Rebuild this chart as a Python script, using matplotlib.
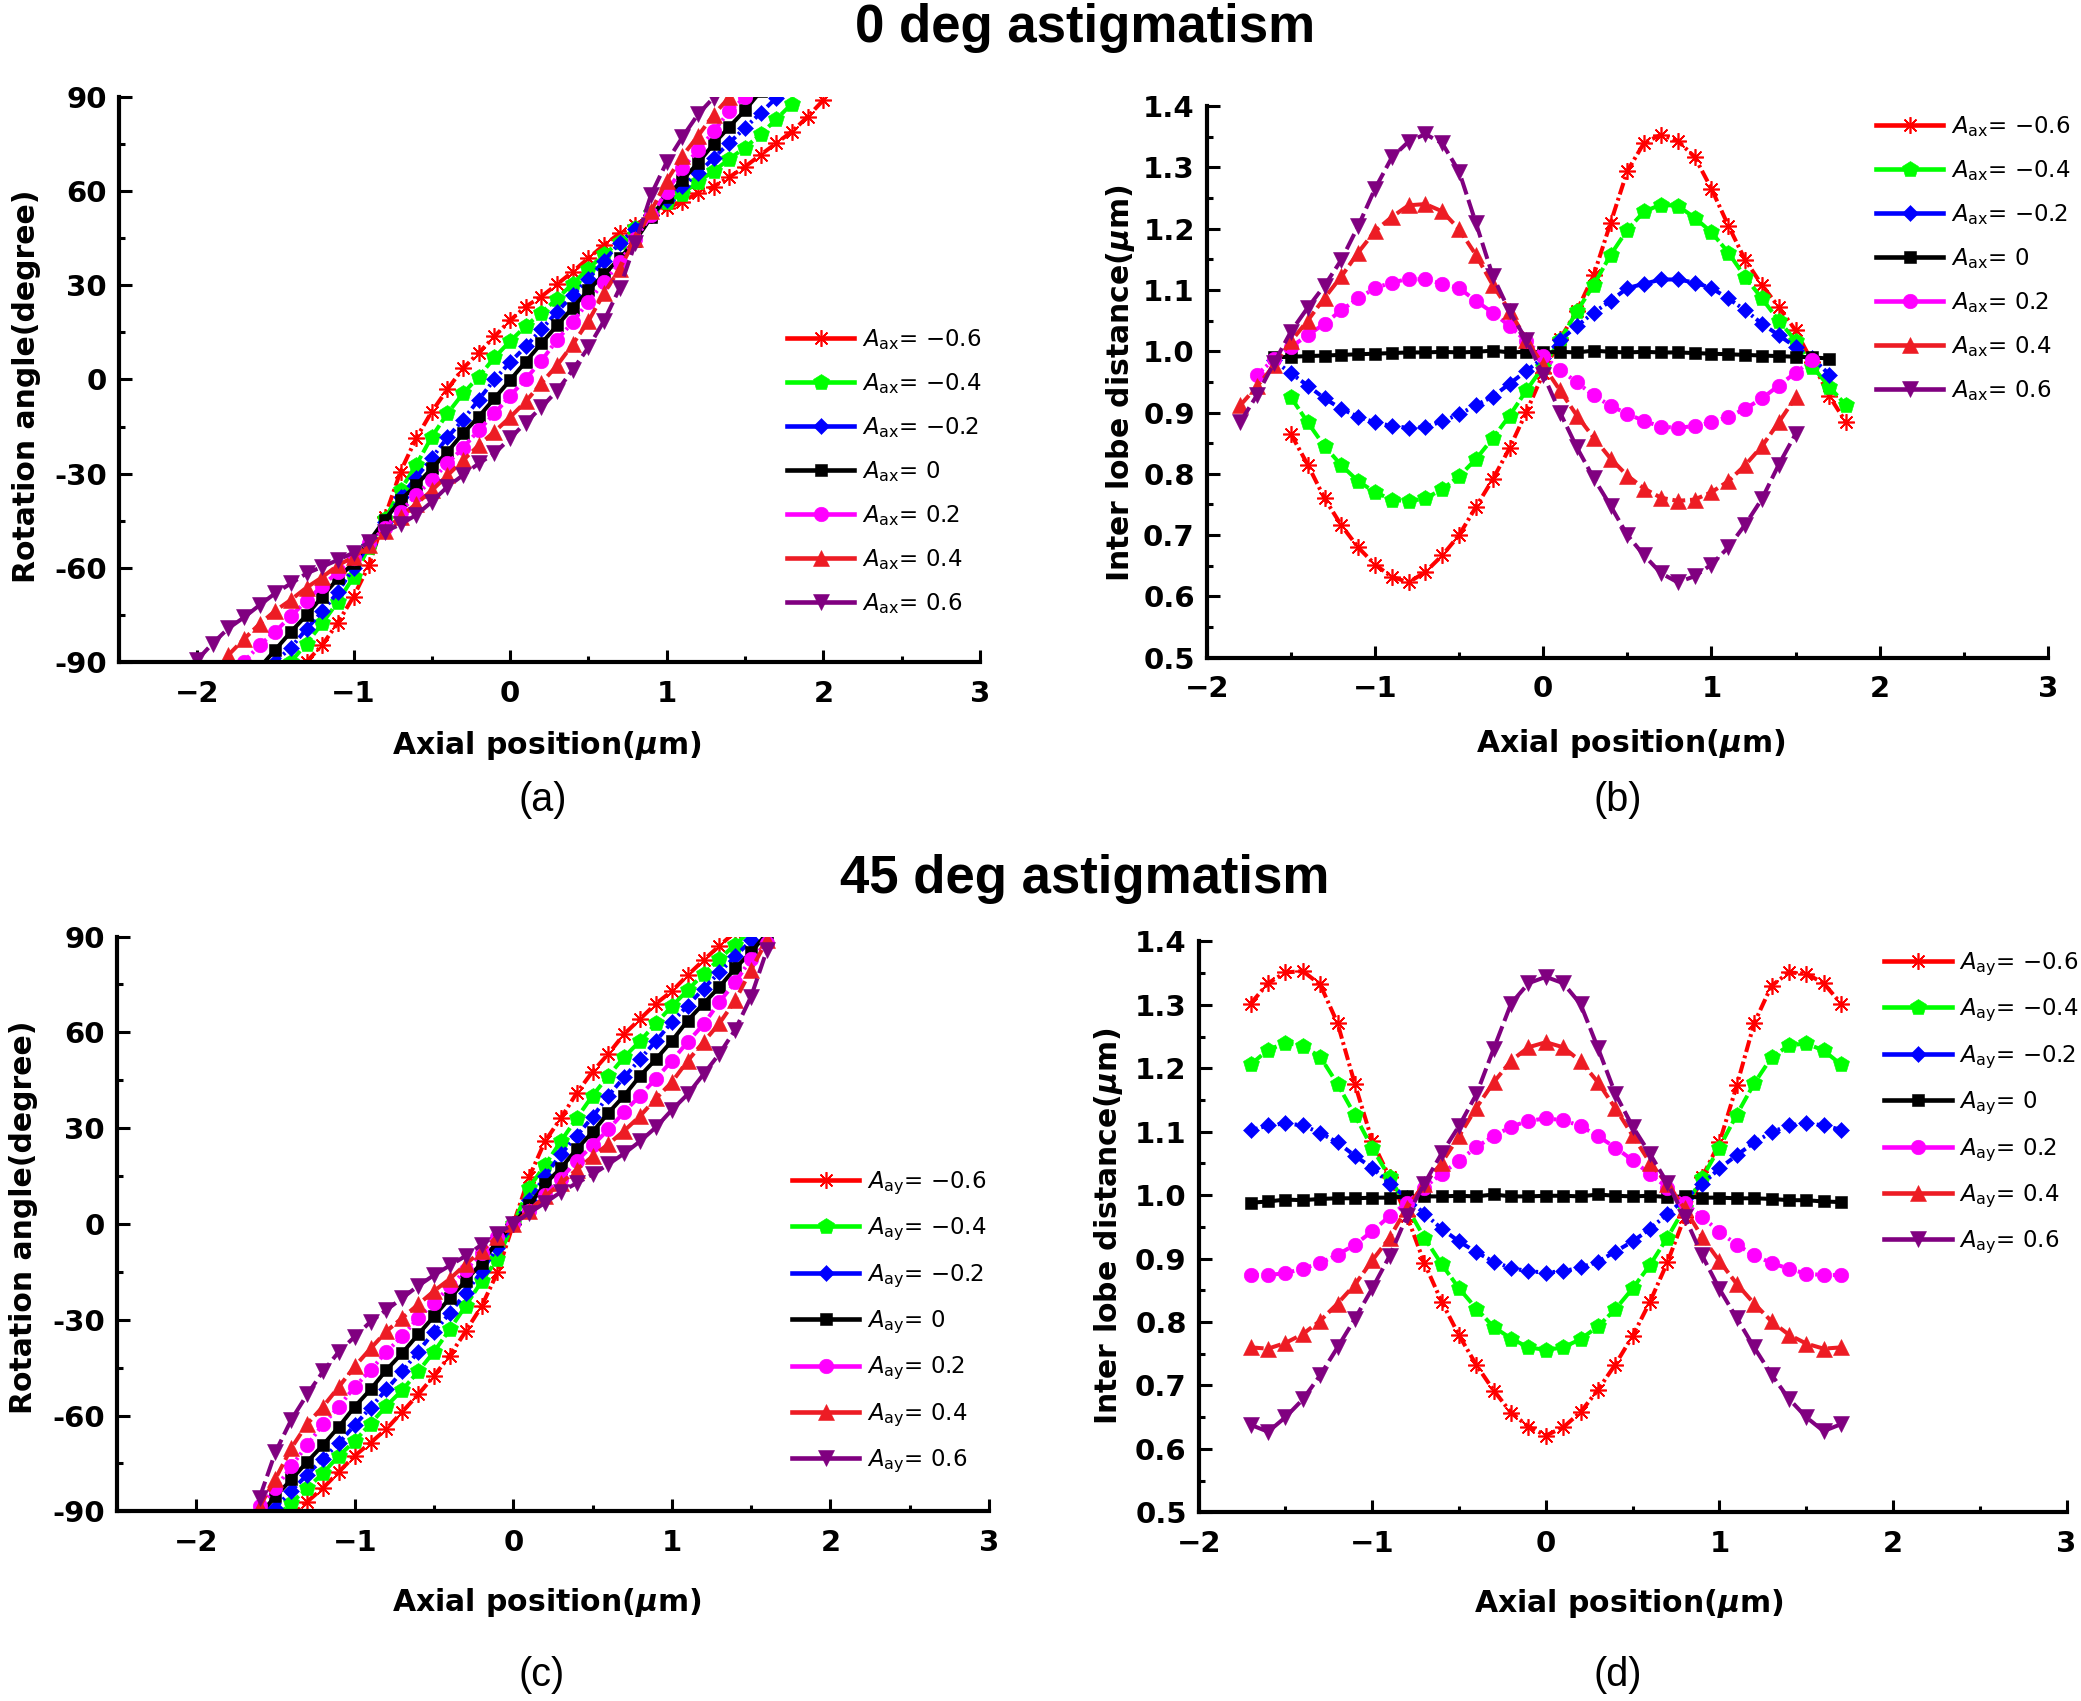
import numpy as np
import matplotlib
matplotlib.use("Agg")
import matplotlib.pyplot as plt
from matplotlib.lines import Line2D
from matplotlib.ticker import MultipleLocator, FormatStrFormatter

SAVE_PATH = "out.png"

plt.rcParams["font.family"] = ["DejaVu Sans"]
plt.rcParams["mathtext.fontset"] = "custom"
plt.rcParams["mathtext.rm"] = "DejaVu Sans"
plt.rcParams["mathtext.it"] = "DejaVu Sans:italic"
plt.rcParams["mathtext.bf"] = "DejaVu Sans:bold"
plt.rcParams["mathtext.bfit"] = "DejaVu Sans:italic:bold"

# astigmatism amplitudes (legend text)
A_TEXT = ["\u22120.6", "\u22120.4", "\u22120.2", "0", "0.2", "0.4", "0.6"]

# ---------------- (a) rotation angle, 0 deg astigmatism ----------------
ROT0_START = [-1.3, -1.4, -1.5, -1.6, -1.7, -1.8, -2.0]
ROT0_M06 = [-89.8, -84.5, -77.4, -69.1, -59.0, -43.7, -29.3, -18.7, -10.2, -3.1, 3.6, 8.5, 13.7,
            18.8, 23.2, 26.4, 30.3, 34.3, 38.6, 42.8, 46.5, 49.2, 52.4, 54.5, 56.6, 59.3, 61.4,
            64.4, 67.7, 71.5, 75.2, 78.9, 83.6, 88.9]
ROT0_M04 = [-89.8, -84.0, -77.6, -70.7, -62.8, -53.2, -44.5, -35.2, -27.2, -18.2, -10.8, -4.4, 0.9,
            7.0, 12.2, 17.0, 21.3, 25.7, 30.5, 35.3, 39.8, 43.8, 48.2, 52.9, 56.6, 59.1, 62.9,
            66.3, 70.2, 73.8, 78.0, 82.8, 87.8]
ROT0_M02 = [-89.8, -85.3, -79.4, -73.8, -67.6, -60.0, -52.4, -45.2, -37.3, -31.2, -25.0, -18.4,
            -12.8, -6.4, 0.0, 5.5, 10.5, 16.0, 21.5, 26.8, 32.0, 37.8, 43.5, 48.0, 52.3, 57.0,
            61.5, 65.6, 70.5, 75.3, 80.1, 84.8, 89.6]
ROT0_Z = [-91.7, -86.0, -80.3, -75.0, -69.1, -63.3, -58.3, -51.5, -44.6, -38.4, -33.6, -28.3,
          -23.0, -17.1, -11.8, -6.0, -0.2, 5.7, 11.5, 17.2, 22.9, 28.4, 33.5, 38.5, 44.2, 51.6,
          58.2, 63.5, 68.9, 75.0, 80.4, 85.7, 91.7]
ROT0_P02 = [-89.8, -84.6, -80.2, -75.3, -70.4, -65.6, -61.2, -56.9, -52.1, -47.2, -42.0, -36.8,
            -32.0, -26.7, -21.7, -16.1, -10.8, -5.2, 0.2, 6.0, 12.6, 18.3, 24.8, 31.0, 37.3,
            44.8, 52.2, 59.8, 67.2, 73.0, 79.0, 85.4, 89.8]
ROT0_P04 = [-87.7, -82.6, -77.8, -73.6, -70.1, -66.2, -62.9, -59.1, -56.5, -52.8, -48.1, -43.6,
            -39.6, -35.3, -30.5, -25.7, -20.9, -16.6, -12.0, -7.0, -1.1, 4.5, 11.2, 18.6, 27.5,
            35.3, 44.6, 53.6, 63.2, 71.1, 77.5, 84.3, 89.8]
ROT0_P06 = [-89.3, -84.0, -79.2, -75.7, -71.8, -68.0, -64.9, -61.7, -59.6, -57.4, -55.1, -51.6,
            -48.4, -46.1, -43.1, -38.9, -34.1, -30.4, -26.7, -23.5, -18.7, -13.7, -8.8, -3.6,
            3.1, 10.2, 18.7, 29.1, 43.5, 58.8, 69.2, 77.1, 84.4, 89.7]

# ---------------- (b) inter lobe distance, 0 deg astigmatism ----------------
DIST0_START = [-1.5, -1.5, -1.6, -1.6, -1.7, -1.8, -1.8]
DIST0_M06 = [0.865, 0.815, 0.760, 0.716, 0.680, 0.652, 0.632, 0.623, 0.640, 0.667, 0.700, 0.746,
             0.791, 0.842, 0.901, 0.964, 1.020, 1.066, 1.124, 1.209, 1.294, 1.340, 1.353, 1.343,
             1.317, 1.265, 1.205, 1.149, 1.108, 1.072, 1.034, 0.982, 0.927, 0.884]
DIST0_M04 = [0.925, 0.884, 0.845, 0.814, 0.788, 0.770, 0.758, 0.755, 0.760, 0.775, 0.796, 0.824,
             0.858, 0.895, 0.936, 0.975, 1.018, 1.065, 1.108, 1.157, 1.198, 1.228, 1.239, 1.237,
             1.218, 1.194, 1.161, 1.121, 1.086, 1.050, 1.017, 0.975, 0.942, 0.912]
DIST0_M02 = [0.985, 0.964, 0.944, 0.923, 0.906, 0.893, 0.884, 0.878, 0.875, 0.876, 0.886, 0.897,
             0.912, 0.926, 0.947, 0.968, 0.989, 1.018, 1.041, 1.063, 1.082, 1.103, 1.110, 1.117,
             1.117, 1.112, 1.103, 1.086, 1.067, 1.045, 1.026, 1.007, 0.989, 0.962]
DIST0_Z = [0.990, 0.991, 0.992, 0.993, 0.994, 0.995, 0.996, 0.997, 0.998, 0.998, 0.999, 0.998,
           0.999, 1.001, 0.998, 0.999, 0.998, 0.999, 0.998, 1.001, 0.999, 0.998, 0.999, 0.998,
           0.998, 0.997, 0.996, 0.995, 0.994, 0.993, 0.992, 0.991, 0.990, 0.988]
DIST0_P02 = [0.962, 0.987, 1.007, 1.026, 1.045, 1.067, 1.086, 1.103, 1.112, 1.118, 1.117, 1.110,
             1.103, 1.082, 1.063, 1.041, 1.016, 0.992, 0.970, 0.949, 0.928, 0.911, 0.898, 0.886,
             0.877, 0.875, 0.878, 0.884, 0.893, 0.906, 0.923, 0.944, 0.965, 0.986]
DIST0_P04 = [0.912, 0.943, 0.977, 1.016, 1.050, 1.087, 1.122, 1.161, 1.196, 1.219, 1.238, 1.240,
             1.228, 1.199, 1.157, 1.108, 1.066, 1.019, 0.977, 0.936, 0.895, 0.859, 0.825, 0.797,
             0.776, 0.761, 0.756, 0.758, 0.770, 0.788, 0.814, 0.845, 0.884, 0.925]
DIST0_P06 = [0.885, 0.929, 0.981, 1.032, 1.071, 1.107, 1.149, 1.204, 1.265, 1.316, 1.342, 1.354,
             1.339, 1.293, 1.209, 1.123, 1.065, 1.018, 0.962, 0.900, 0.843, 0.793, 0.748, 0.700,
             0.667, 0.638, 0.623, 0.633, 0.652, 0.680, 0.717, 0.759, 0.815, 0.865]

# ---------------- (c) rotation angle, 45 deg astigmatism ----------------
ROT45_START = [-1.4, -1.5, -1.5, -1.6, -1.6, -1.6, -1.6]
ROT45_M06 = [-91.5, -87.0, -82.7, -77.6, -72.6, -68.5, -64.2, -58.8, -53.4, -47.6, -41.2, -33.6,
             -25.8, -15.2, 0.0, 14.7, 25.9, 33.1, 41.0, 47.7, 53.3, 59.5, 64.2, 69.0, 72.9, 77.9,
             82.6, 87.1, 91.5]
ROT45_M04 = [-92.0, -87.3, -82.8, -78.0, -72.6, -68.0, -62.5, -57.0, -52.0, -46.2, -40.0, -33.0,
             -25.6, -18.0, -11.0, 0.0, 11.4, 18.4, 25.9, 33.1, 40.2, 46.4, 52.3, 57.3, 62.8, 68.2,
             73.2, 78.3, 83.0, 87.5, 92.0]
ROT45_M02 = [-88.8, -83.6, -78.5, -73.5, -68.6, -63.0, -57.5, -51.8, -46.2, -40.0, -33.8, -27.9,
             -21.6, -14.8, -7.4, 0.0, 7.5, 15.0, 21.8, 27.6, 33.5, 40.2, 46.0, 51.6, 57.3, 63.2,
             68.4, 73.7, 78.8, 83.8, 88.8]
ROT45_Z = [-91.0, -85.3, -80.0, -74.5, -69.2, -63.5, -57.2, -51.8, -45.7, -40.4, -34.6, -28.9,
           -23.2, -17.8, -12.2, -5.4, 0.0, 5.8, 12.5, 17.5, 23.4, 28.8, 34.8, 40.2, 46.4, 51.6,
           57.3, 63.7, 69.0, 74.2, 80.1, 85.1, 91.0]
ROT45_P02 = [-88.3, -82.8, -75.9, -69.2, -62.8, -57.2, -51.0, -45.8, -40.0, -35.2, -29.4, -24.8,
             -19.5, -14.5, -9.0, -4.2, 0.0, 4.0, 9.1, 14.2, 19.7, 24.6, 29.6, 35.1, 40.2, 45.5,
             51.1, 57.0, 62.5, 69.5, 75.7, 83.0, 88.0]
ROT45_P04 = [-88.5, -79.8, -70.2, -62.6, -57.2, -51.0, -44.6, -39.0, -33.6, -29.4, -25.2, -21.0,
             -17.2, -12.6, -8.4, -4.0, 0.0, 4.2, 8.6, 12.8, 17.0, 21.2, 25.0, 29.2, 33.8, 39.3,
             44.4, 51.1, 57.0, 62.8, 70.0, 79.6, 88.8]
ROT45_P06 = [-85.7, -71.4, -61.3, -53.4, -46.2, -40.0, -35.3, -30.6, -26.9, -23.2, -19.4, -16.0,
             -13.0, -10.0, -6.5, -3.1, 0.0, 3.4, 6.6, 10.0, 12.8, 15.5, 18.7, 22.1, 25.9, 30.3,
             35.7, 40.6, 46.9, 53.3, 60.8, 71.2, 85.8]

# ---------------- (d) inter lobe distance, 45 deg astigmatism ----------------
DIST45_START = [-1.7] * 7
DIST45_M06 = [1.302, 1.334, 1.351, 1.353, 1.332, 1.271, 1.175, 1.085, 1.028, 0.967, 0.893, 0.832,
              0.779, 0.732, 0.692, 0.657, 0.635, 0.621, 0.634, 0.658, 0.693, 0.733, 0.778, 0.832,
              0.894, 0.966, 1.028, 1.083, 1.173, 1.271, 1.330, 1.351, 1.349, 1.334, 1.302]
DIST45_M04 = [1.206, 1.229, 1.240, 1.235, 1.218, 1.175, 1.126, 1.074, 1.028, 0.981, 0.933, 0.891,
              0.853, 0.821, 0.792, 0.774, 0.760, 0.756, 0.760, 0.773, 0.793, 0.820, 0.853, 0.890,
              0.933, 0.980, 1.027, 1.075, 1.127, 1.176, 1.217, 1.236, 1.239, 1.228, 1.206]
DIST45_M02 = [1.102, 1.110, 1.113, 1.110, 1.098, 1.083, 1.062, 1.043, 1.018, 0.995, 0.971, 0.947,
              0.927, 0.910, 0.895, 0.885, 0.880, 0.878, 0.880, 0.886, 0.895, 0.911, 0.927, 0.947,
              0.970, 0.994, 1.017, 1.042, 1.063, 1.083, 1.099, 1.110, 1.113, 1.110, 1.103]
DIST45_Z = [0.988, 0.990, 0.993, 0.992, 0.994, 0.995, 0.995, 0.996, 0.996, 0.998, 0.998, 0.998,
            0.999, 0.998, 1.001, 0.998, 0.998, 0.999, 0.999, 0.998, 1.001, 0.999, 0.998, 0.999,
            0.997, 0.998, 0.996, 0.996, 0.995, 0.995, 0.994, 0.992, 0.992, 0.990, 0.989]
DIST45_P02 = [0.874, 0.874, 0.877, 0.884, 0.893, 0.906, 0.922, 0.943, 0.967, 0.988, 1.012, 1.034,
              1.054, 1.076, 1.093, 1.108, 1.117, 1.121, 1.118, 1.109, 1.093, 1.075, 1.055, 1.033,
              1.012, 0.988, 0.966, 0.942, 0.922, 0.905, 0.893, 0.884, 0.876, 0.874, 0.874]
DIST45_P04 = [0.760, 0.758, 0.767, 0.781, 0.802, 0.829, 0.859, 0.897, 0.933, 0.980, 1.018, 1.051,
              1.093, 1.138, 1.178, 1.212, 1.233, 1.241, 1.233, 1.211, 1.178, 1.137, 1.094, 1.051,
              1.017, 0.979, 0.934, 0.896, 0.860, 0.829, 0.801, 0.780, 0.766, 0.758, 0.760]
DIST45_P06 = [0.638, 0.627, 0.650, 0.678, 0.716, 0.760, 0.805, 0.853, 0.904, 0.967, 1.018, 1.066,
              1.109, 1.159, 1.231, 1.302, 1.334, 1.344, 1.334, 1.301, 1.232, 1.160, 1.108, 1.065,
              1.019, 0.966, 0.905, 0.852, 0.806, 0.760, 0.717, 0.679, 0.650, 0.628, 0.639]

# series styles, in legend order (-0.6 ... 0.6)
COLORS = ["#FF0000", "#00FF00", "#0000FF", "#000000", "#FF00FF", "#ED1C24", "#800080"]
MARKERS = [(8, 2, 0), "p", "D", "s", "o", "^", "v"]
MSIZES = [12, 12, 8, 8.5, 10.5, 11.5, 11.5]
DASHES = [(3.0, 0.9, 0.7, 0.9), (3.5, 0.9), (1.8, 0.9, 0.6, 0.9), None,
          (2.0, 0.9, 0.6, 0.9, 0.6, 0.9), (3.2, 1.2), (4.2, 1.4)]


def positions(start, values):
    return np.round(start + 0.1 * np.arange(len(values)), 1)


def style_axes(ax, xlim, ylim, ymajor, yminor, yfmt):
    ax.set_xlim(*xlim)
    ax.set_ylim(*ylim)
    ax.spines["top"].set_visible(False)
    ax.spines["right"].set_visible(False)
    ax.spines["left"].set_linewidth(3)
    ax.spines["bottom"].set_linewidth(3)
    ax.xaxis.set_major_locator(MultipleLocator(1))
    ax.xaxis.set_minor_locator(MultipleLocator(0.5))
    ax.yaxis.set_major_locator(MultipleLocator(ymajor))
    ax.yaxis.set_minor_locator(MultipleLocator(yminor))
    ax.yaxis.set_major_formatter(FormatStrFormatter(yfmt))
    ax.tick_params(which="both", direction="in", width=2.2, top=False, right=False)
    ax.tick_params(which="major", length=9, labelsize=21)
    ax.tick_params(which="minor", length=4.5)
    ax.tick_params(axis="x", pad=12.5)
    ax.tick_params(axis="y", pad=8.6)
    for lab in ax.get_xticklabels() + ax.get_yticklabels():
        lab.set_fontweight("bold")


def draw_panel(ax, starts, series, sub, legend_xy):
    for i, vals in enumerate(series):
        x = positions(starts[i], vals)
        line, = ax.plot(x, vals, color=COLORS[i], lw=2.9, marker=MARKERS[i],
                        ms=MSIZES[i], mec=COLORS[i], mfc=COLORS[i],
                        mew=1.2 if i == 0 else 0.4)
        if DASHES[i] is not None:
            line.set_dashes(DASHES[i])

    handles = []
    for i in range(len(series)):
        handles.append(Line2D([], [], color=COLORS[i], lw=3.3, ls="-",
                              marker=MARKERS[i], ms=MSIZES[i], mec=COLORS[i],
                              mfc=COLORS[i], mew=1.2 if i == 0 else 0.4))
    labels = [r"$\mathit{A}_{\mathrm{%s}}$= %s" % (sub, t) for t in A_TEXT]
    ax.legend(handles, labels, loc="upper left", bbox_to_anchor=legend_xy,
              frameon=False, fontsize=16.5, handlelength=2.93, handletextpad=0.33,
              labelspacing=0.83, borderpad=0, borderaxespad=0)


fig = plt.figure(figsize=(20.81, 17.01), dpi=100, facecolor="white")

ax_a = fig.add_axes([0.0570, 0.6106, 0.4139, 0.3326])
ax_b = fig.add_axes([0.5799, 0.6133, 0.4042, 0.3244])
ax_c = fig.add_axes([0.0562, 0.1115, 0.4190, 0.3379])
ax_d = fig.add_axes([0.5760, 0.1109, 0.4171, 0.3357])

draw_panel(ax_a, ROT0_START,
           [ROT0_M06, ROT0_M04, ROT0_M02, ROT0_Z, ROT0_P02, ROT0_P04, ROT0_P06],
           "ax", (0.776, 0.592))
draw_panel(ax_b, DIST0_START,
           [DIST0_M06, DIST0_M04, DIST0_M02, DIST0_Z, DIST0_P02, DIST0_P04, DIST0_P06],
           "ax", (0.796, 0.985))
draw_panel(ax_c, ROT45_START,
           [ROT45_M06, ROT45_M04, ROT45_M02, ROT45_Z, ROT45_P02, ROT45_P04, ROT45_P06],
           "ay", (0.7745, 0.595))
draw_panel(ax_d, DIST45_START,
           [DIST45_M06, DIST45_M04, DIST45_M02, DIST45_Z, DIST45_P02, DIST45_P04, DIST45_P06],
           "ay", (0.790, 0.984))

for ax in (ax_a, ax_c):
    style_axes(ax, (-2.5, 3), (-90, 90), 30, 15, "%d")
for ax in (ax_b, ax_d):
    style_axes(ax, (-2, 3), (0.5, 1.4), 0.1, 0.05, "%.1f")

xlabel = r"Axial position($\mathbfit{\mu}$m)"
label_kw = dict(fontsize=21.5, fontweight="bold")
ax_a.set_xlabel(xlabel, **label_kw)
ax_b.set_xlabel(xlabel, **label_kw)
ax_c.set_xlabel(xlabel, **label_kw)
ax_d.set_xlabel(xlabel, **label_kw)
ax_a.set_ylabel("Rotation angle(degree)", **label_kw)
ax_c.set_ylabel("Rotation angle(degree)", **label_kw)
ax_b.set_ylabel(r"Inter lobe distance($\mathbfit{\mu}$m)", **label_kw)
ax_d.set_ylabel(r"Inter lobe distance($\mathbfit{\mu}$m)", **label_kw)

ax_a.xaxis.set_label_coords(0.497, -0.117)
ax_b.xaxis.set_label_coords(0.504, -0.126)
ax_c.xaxis.set_label_coords(0.493, -0.130)
ax_d.xaxis.set_label_coords(0.495, -0.130)
ax_a.yaxis.set_label_coords(-0.0899, 0.488)
ax_b.yaxis.set_label_coords(-0.0832, 0.498)
ax_c.yaxis.set_label_coords(-0.0906, 0.511)
ax_d.yaxis.set_label_coords(-0.0846, 0.502)

title_kw = dict(ha="center", va="baseline", fontsize=38, fontweight="bold",
                family=["Liberation Sans", "DejaVu Sans"])
fig.text(0.5214, 0.9755, "0 deg astigmatism", **title_kw)
fig.text(0.5214, 0.4750, "45 deg astigmatism", **title_kw)

sub_kw = dict(ha="center", va="baseline", fontsize=28.5,
              family=["Liberation Sans", "DejaVu Sans"])
fig.text(0.2606, 0.5232, "(a)", **sub_kw)
fig.text(0.7775, 0.5232, "(b)", **sub_kw)
fig.text(0.2604, 0.0088, "(c)", **sub_kw)
fig.text(0.7775, 0.0088, "(d)", **sub_kw)

fig.savefig(SAVE_PATH, dpi=100, facecolor="white")
plt.close(fig)
